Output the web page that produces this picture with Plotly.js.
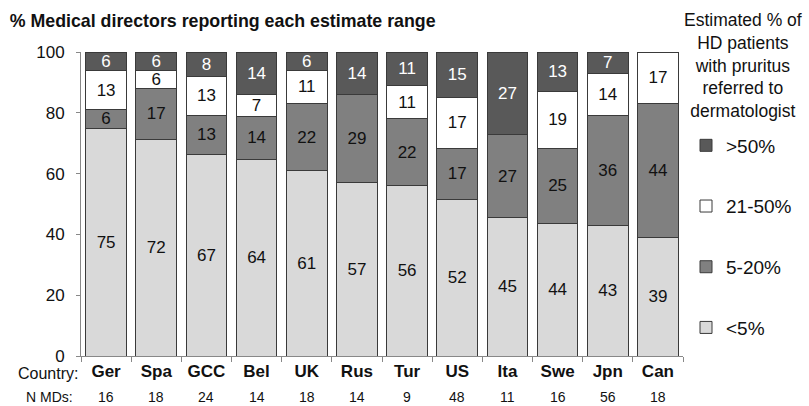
<!DOCTYPE html>
<html>
<head>
<meta charset="utf-8">
<script src="https://cdn.plot.ly/plotly-3.0.1.min.js"></script>
<style>html,body{margin:0;padding:0;background:#fff}#chart{width:809px;height:406px}</style>
</head>
<body>
<div id="chart"></div>
<script>
const countries = ['Ger','Spa','GCC','Bel','UK','Rus','Tur','US','Ita','Swe','Jpn','Can'];
const nMDs = [16,18,24,14,18,14,9,48,11,16,56,18];
const lt5 = [75,72,67,64,61,57,56,52,45,44,43,39];
const p5to20 = [6,17,13,14,22,29,22,17,27,25,36,44];
const p21to50 = [13,6,13,7,11,0,11,17,0,19,14,17];
const gt50 = [6,6,8,14,6,14,11,15,27,13,7,0];

const FONT = 'Liberation Sans, Arial, sans-serif';
const series = [
  {name:'<5%', y:lt5, color:'#d9d9d9', tc:'#111'},
  {name:'5-20%', y:p5to20, color:'#808080', tc:'#111'},
  {name:'21-50%', y:p21to50, color:'#ffffff', tc:'#111'},
  {name:'>50%', y:gt50, color:'#595959', tc:'#ffffff'}
];
const traces = series.map((s,i) => ({
  type:'bar', name:s.name, x:countries, y:s.y,
  legendgroup:'g'+i, legendrank:4-i,
  text:s.y.map(v => v ? String(v) : ''),
  textposition:'inside', insidetextanchor:'middle', textangle:0,
  constraintext:'none',
  textfont:{family:FONT, size:17, color:s.tc},
  marker:{color:s.color, line:{color:'#3a3a3a', width:1}},
  hoverinfo:'skip'
}));

const annotations = nMDs.map((n,i) => ({
  x:countries[i], xref:'x', y:-0.135, yref:'paper', yanchor:'middle',
  text:String(n), showarrow:false, font:{family:FONT, size:14, color:'#111'}
}));
annotations.push({x:-0.002, xref:'paper', xanchor:'right', y:-0.058, yref:'paper', yanchor:'middle',
  text:'Country:', showarrow:false, font:{family:FONT, size:16, color:'#111'}});
annotations.push({x:-0.01, xref:'paper', xanchor:'right', y:-0.135, yref:'paper', yanchor:'middle',
  text:'N MDs:', showarrow:false, font:{family:FONT, size:14, color:'#111'}});
annotations.push({x:1.1, xref:'paper', xanchor:'center', y:1.145, yref:'paper', yanchor:'top',
  text:'Estimated % of<br>HD patients<br>with pruritus<br>referred to<br>dermatologist', align:'center',
  showarrow:false, font:{family:FONT, size:17.5, color:'#111'}});

const layout = {
  width:809, height:406,
  margin:{l:81, r:122, t:52, b:50},
  paper_bgcolor:'#fff', plot_bgcolor:'#fff',
  barmode:'stack', barnorm:'percent', bargap:0.19,
  font:{family:FONT, color:'#111'},
  title:{text:'<b>% Medical directors reporting each estimate range</b>', x:0.012, xanchor:'left', xref:'container',
    y:0.95, yanchor:'middle', font:{family:FONT, size:17.8, color:'#111'}},
  xaxis:{tickmode:'array', tickvals:countries, ticktext:countries.map(c=>'<b>'+c+'</b>'),
    tickson:'boundaries', ticks:'outside', ticklen:5, tickcolor:'#888', showline:true, linecolor:'#888',
    showgrid:false, tickfont:{family:FONT, size:17, color:'#111'}, fixedrange:true},
  yaxis:{range:[0,100], tickvals:[0,20,40,60,80,100], ticks:'outside', ticklen:4, tickcolor:'#888',
    showline:true, linecolor:'#888', showgrid:false, zeroline:false, ticklabelstandoff:8,
    tickfont:{family:FONT, size:17, color:'#111'}},
  showlegend:true,
  legend:{x:1.005, xanchor:'left', y:0.755, yanchor:'top', traceorder:'grouped', tracegroupgap:33,
    font:{family:FONT, size:19, color:'#111'}, bgcolor:'rgba(0,0,0,0)', itemwidth:30},
  annotations:annotations
};
Plotly.newPlot('chart', traces, layout, {displayModeBar:false, staticPlot:true});
</script>
</body>
</html>
